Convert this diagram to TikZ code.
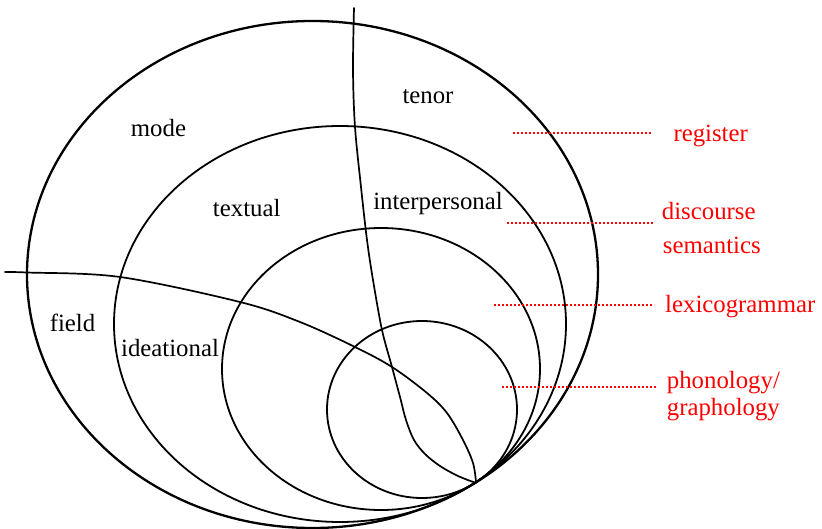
\documentclass[tikz,border=0pt]{standalone}
\usepackage{fontspec}
\setmainfont{Liberation Serif}
\begin{document}
\begin{tikzpicture}[x=1pt,y=-1pt,
  ring/.style={line width=1.8pt},
  outerring/.style={line width=2.3pt},
  divider/.style={line width=1.7pt, line cap=round},
  dotline/.style={red, line width=1.6pt, dash pattern=on 1.6pt off 2.4pt},
  lbl/.style={font=\fontsize{24.8}{30}\selectfont, inner sep=0pt, anchor=base},
  stratum/.style={lbl, red, anchor=base west}]
\useasboundingbox (0,0) rectangle (822,529);

% nested strata, all touching at the lower right
\draw[outerring] (312.5,274.5) ellipse [x radius=285.5pt, y radius=253.5pt];
\draw[ring] (340,324) ellipse [x radius=226pt, y radius=198pt];
\draw[ring] (381,369) ellipse [x radius=159pt, y radius=141pt];
\draw[ring] (422,409.5) ellipse [x radius=95pt, y radius=88.5pt];

% field / ideational boundary
\draw[divider] plot[smooth, tension=0.55] coordinates {
  (5,272) (27,272.5) (120,277) (240,302) (300,322) (355,347) (392,367)
  (427,393) (447,413) (463,440) (473,463) (476,482)};

% tenor / interpersonal boundary
\draw[divider] plot[smooth, tension=0.55] coordinates {
  (354,8) (353,70) (355,127) (361,187) (367,240) (373,280) (382,330)
  (392,367) (400,397) (406,420) (414,440) (425,454) (440,466) (458,476) (476,483)};

% metafunction and register labels
\node[lbl] (mode) at (158.5,136.7) {mode};
\node[lbl] (tenor) at (428,104) {tenor};
\node[lbl] (textual) at (246.7,216.7) {textual};
\node[lbl] (interpersonal) at (438,210) {interpersonal};
\node[lbl] (field) at (72.5,331.7) {field};
\node[lbl] (ideational) at (170,356.7) {ideational};

% strata names
\node[stratum] (register) at (673.3,141.7) {register};
\node[stratum] (discourse) at (661.7,220) {discourse};
\node[stratum] (semantics) at (662.7,254) {semantics};
\node[stratum] (lexicogrammar) at (665,313) {lexicogrammar};
\node[stratum] (phonology) at (666.7,388) {phonology/};
\node[stratum] (graphology) at (666.7,415.7) {graphology};

% dotted leaders
\coordinate (regL) at (513,133);
\coordinate (disL) at (507,223);
\coordinate (lexL) at (494,305);
\coordinate (phoL) at (502,387);
\draw[dotline, shorten >=21pt] (regL) -- (regL -| register.west);
\draw[dotline, shorten >=8pt] (disL) -- (disL -| discourse.west);
\draw[dotline, shorten >=11pt] (lexL) -- (lexL -| lexicogrammar.west);
\draw[dotline, shorten >=10pt] (phoL) -- (phoL -| phonology.west);
\end{tikzpicture}
\end{document}
